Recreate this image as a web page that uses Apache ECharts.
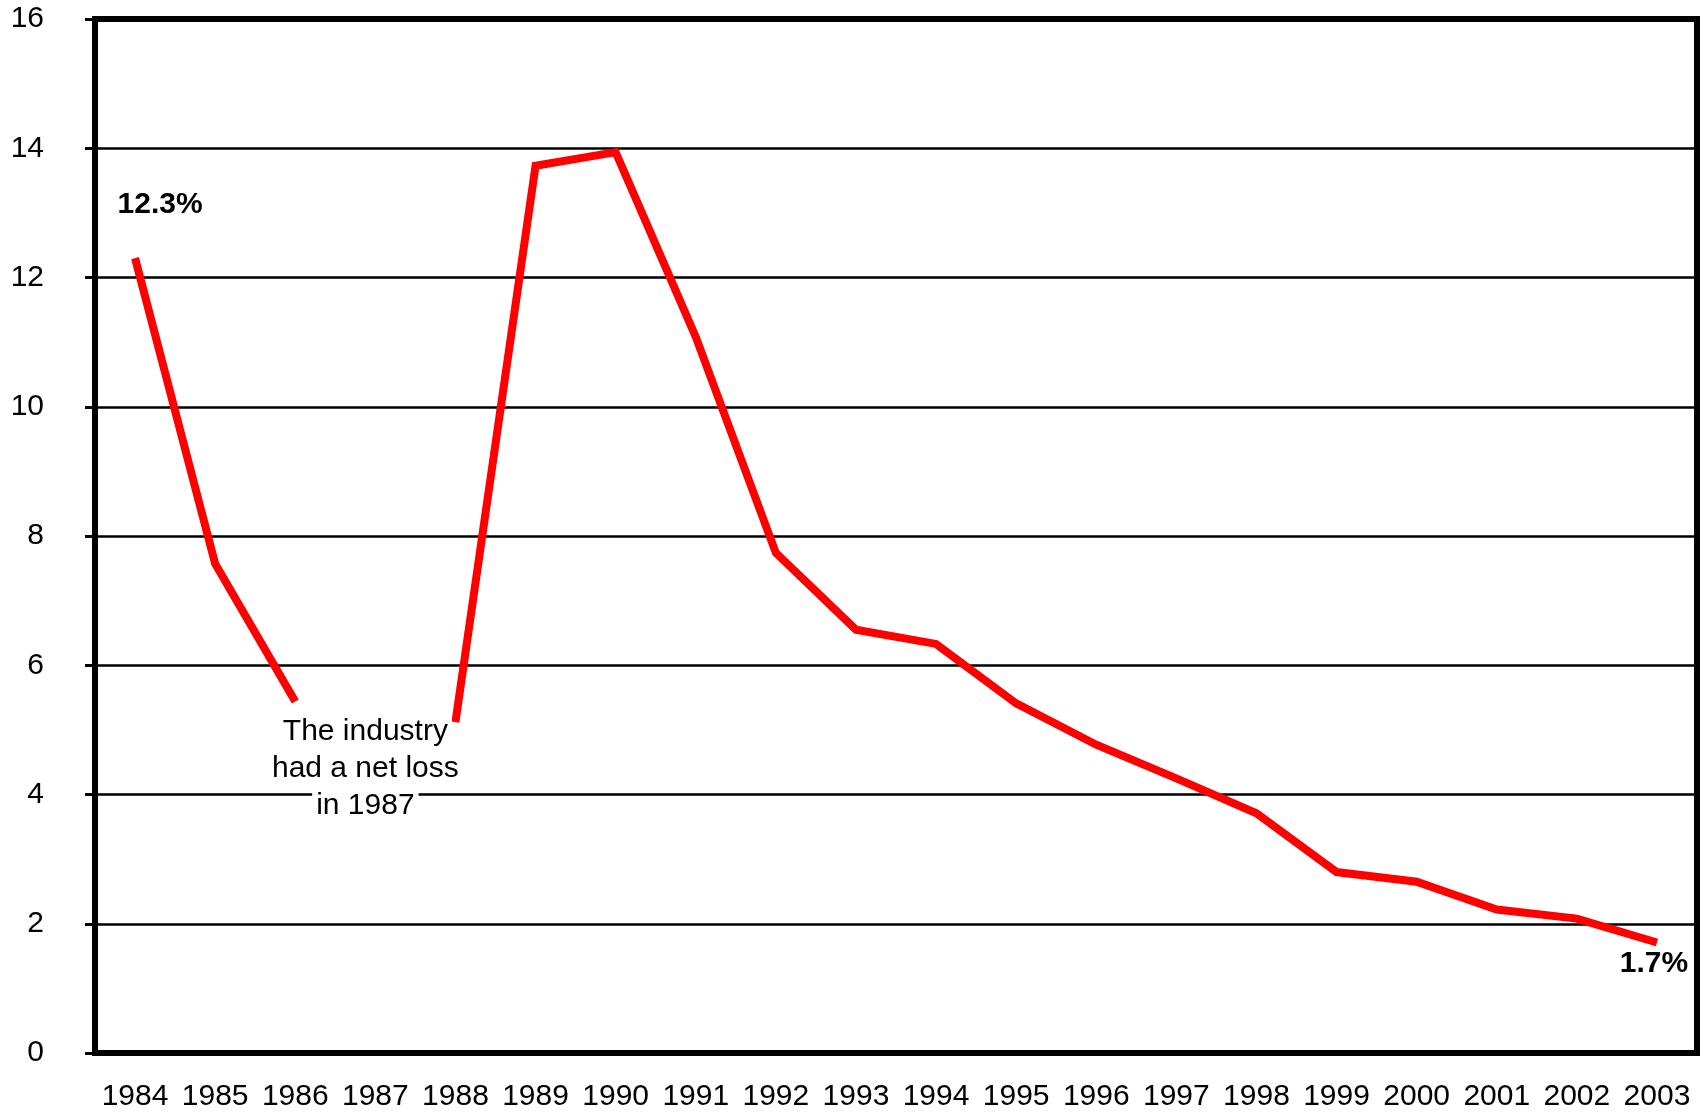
<!DOCTYPE html>
<html>
<head>
<meta charset="utf-8">
<style>
  html, body { margin: 0; padding: 0; background: #fff; }
  #chart { width: 1701px; height: 1113px; }
</style>
<script src="https://cdn.jsdelivr.net/npm/echarts@6/dist/echarts.min.js"></script>
</head>
<body>
<div id="chart"></div>
<script>
  // industry margin, percent
  const years = ['1984', '1985', '1986', '1987', '1988', '1989', '1990', '1991', '1992', '1993',
                 '1994', '1995', '1996', '1997', '1998', '1999', '2000', '2001', '2002', '2003'];
  const margin = [12.3, 7.57, 5.44, null, 5.12, 13.73, 13.94, 11.08, 7.74, 6.55,
                  6.33, 5.41, 4.77, 4.25, 3.71, 2.8, 2.65, 2.22, 2.08, 1.71];
  const endLabels = { '1984': '12.3%', '2003': '1.7%' };
  const noteLines = ['The industry', 'had a net loss', 'in 1987'];
  const noteAt = ['1987', 4.4];

  const font = '"Liberation Sans", Arial, sans-serif';

  const chart = echarts.init(document.getElementById('chart'));
  chart.setOption({
    animation: false,
    grid: {
      left: 95, right: 4, top: 19, bottom: 60,
      show: true, borderColor: '#000', borderWidth: 6, backgroundColor: 'transparent'
    },
    xAxis: {
      type: 'category',
      data: years,
      boundaryGap: true,
      axisLine: { lineStyle: { color: '#000', width: 6 } },
      axisTick: { alignWithLabel: true, length: 10, lineStyle: { color: '#000', width: 3 } },
      axisLabel: { color: '#000', fontFamily: font, fontSize: 30, margin: 29, interval: 0 },
      splitLine: { show: false }
    },
    yAxis: {
      type: 'value',
      min: 0, max: 16, interval: 2,
      axisLine: { show: true, lineStyle: { color: '#000', width: 6 } },
      axisTick: { show: true, length: 10, lineStyle: { color: '#000', width: 3 } },
      axisLabel: { color: '#000', fontFamily: font, fontSize: 30, margin: 51 },
      splitLine: { lineStyle: { color: '#000', width: 2.5 } }
    },
    series: [{
      type: 'line',
      data: margin.map((v, i) => {
        const txt = endLabels[years[i]];
        if (!txt) return v;
        const first = i === 0;
        return {
          value: v,
          label: {
            show: true,
            formatter: txt,
            position: first ? 'top' : 'bottom',
            distance: 0,
            offset: first ? [25, -38] : [-3, 6],
            color: '#000', fontFamily: font, fontSize: 30, fontWeight: 'bold'
          }
        };
      }),
      connectNulls: false,
      showSymbol: true,
      symbol: 'circle',
      symbolSize: 0.01,
      lineStyle: { color: '#ff0000', width: 8, join: 'miter' },
      itemStyle: { color: '#ff0000' },
      markPoint: {
        symbol: 'circle',
        symbolSize: 0,
        silent: true,
        data: [{
          coord: noteAt,
          label: {
            show: true,
            position: 'inside',
            offset: [-10, 0],
            formatter: noteLines.map(s => '{a|' + s + '}').join('\n'),
            rich: {
              a: {
                color: '#000', fontFamily: font, fontSize: 30, lineHeight: 37,
                backgroundColor: '#fff', padding: [0, 4]
              }
            }
          }
        }]
      }
    }]
  });
</script>
</body>
</html>
